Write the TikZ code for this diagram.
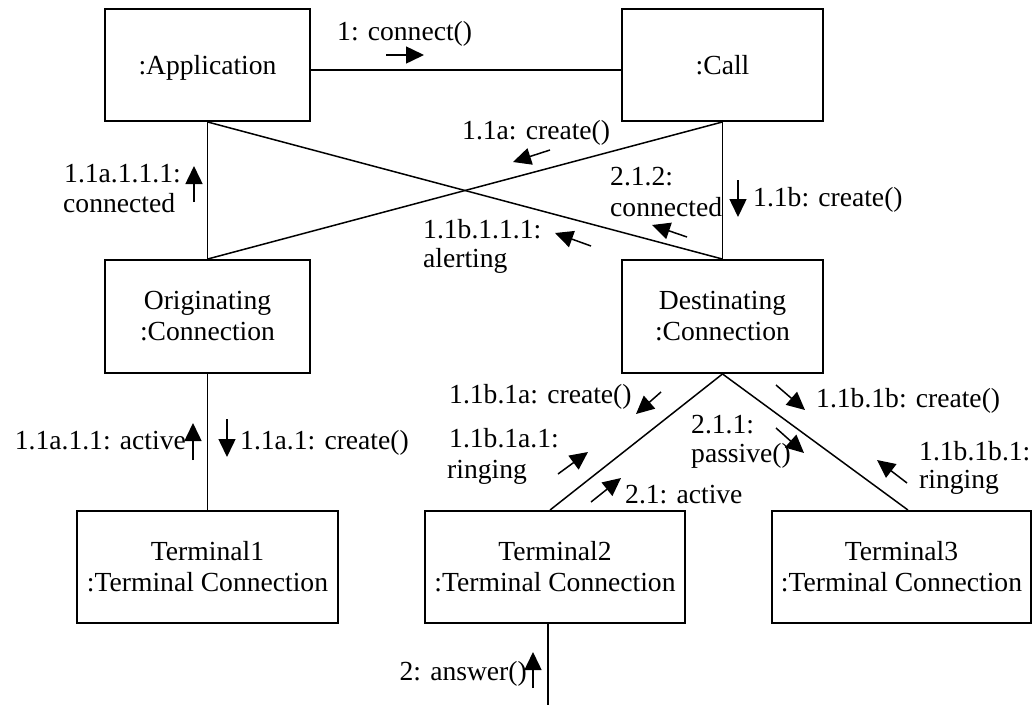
\documentclass[tikz,border=0pt]{standalone}
\usepackage{fontspec}
\setmainfont{Liberation Serif}
\usetikzlibrary{arrows.meta}
\begin{document}
\begin{tikzpicture}[x=1pt,y=-1pt,
  objbox/.style={draw, line width=1.9pt, inner sep=0pt, align=center,
    font=\fontsize{27.6}{31}\selectfont},
  conn/.style={line width=1.5pt},
  msg/.style={line width=1.5pt, -{Triangle[length=18pt,width=17pt]}},
  lbl/.style={inner sep=0pt, font=\fontsize{27.6}{31}\selectfont, anchor=base west},
  lble/.style={lbl, anchor=base east}]
\useasboundingbox (0,0) rectangle (1034,705);
% objects
\node[objbox, minimum width=205pt, minimum height=112pt, text depth=0pt] (app) at (207.5,65) {:Application};
\node[objbox, minimum width=201pt, minimum height=112pt, text depth=0pt] (call) at (722.5,65) {:Call};
\node[objbox, minimum width=205pt, minimum height=113pt] (orig) at (207.5,316.5) {Originating\\:Connection};
\node[objbox, minimum width=201pt, minimum height=113pt] (dest) at (722.5,316.5) {Destinating\\:Connection};
\node[objbox, minimum width=261pt, minimum height=112pt] (t1) at (207.5,567) {Terminal1\\:Terminal Connection};
\node[objbox, minimum width=260pt, minimum height=112pt] (t2) at (555,567) {Terminal2\\:Terminal Connection};
\node[objbox, minimum width=259pt, minimum height=112pt] (t3) at (901.5,567) {Terminal3\\:Terminal Connection};
\coordinate (ext) at (548,705);
% links
\draw[conn] ([yshift=-5pt]app.east) -- ([yshift=-5pt]call.west);
\draw[conn] (app.south) -- (orig.north);
\draw[conn] (app.south) -- (dest.north);
\draw[conn] (orig.north) -- (call.south);
\draw[conn] (call.south) -- (dest.north);
\draw[conn] (orig.south) -- (t1.north);
\draw[conn] (dest.south) -- ([xshift=-5pt]t2.north);
\draw[conn] (dest.south) -- ([xshift=6.5pt]t3.north);
\draw[conn] ([xshift=-7pt]t2.south) -- (ext);
% message arrows
\draw[msg] (386,55) -- (424,55);
\draw[msg] (194,202) -- (194,166);
\draw[msg] (550,150) -- (513,162);
\draw[msg] (687,237) -- (652,225);
\draw[msg] (591,246) -- (555,233);
\draw[msg] (738,180) -- (738,217);
\draw[msg] (193,460) -- (193,423);
\draw[msg] (227,419) -- (227,457);
\draw[msg] (661,392) -- (636,414);
\draw[msg] (558,474) -- (588,452);
\draw[msg] (591,502) -- (621,478);
\draw[msg] (776,385) -- (805,410);
\draw[msg] (776,428) -- (804,453);
\draw[msg] (907,483) -- (877,460);
\draw[msg] (533,688) -- (533,652);
% labels
\node[lbl] (m1) at (337,40) {1: connect()};
\node[lbl] (m2a) at (64,182) {1.1a.1.1.1:};
\node[lbl] (m2b) at (63,212) {connected};
\node[lbl] (m3) at (462,139) {1.1a: create()};
\node[lbl] (m4a) at (610,185) {2.1.2:};
\node[lbl] (m4b) at (610,216) {connected};
\node[lbl] (m5a) at (423,238) {1.1b.1.1.1:};
\node[lbl] (m5b) at (423,267) {alerting};
\node[lbl] (m6) at (753,206) {1.1b: create()};
\node[lble] (m7) at (186,449) {1.1a.1.1: active};
\node[lbl] (m8) at (240,449) {1.1a.1: create()};
\node[lbl] (m9) at (449,403) {1.1b.1a: create()};
\node[lbl] (m10a) at (449,447) {1.1b.1a.1:};
\node[lbl] (m10b) at (447,478) {ringing};
\node[lbl] (m11) at (625,503) {2.1: active};
\node[lbl] (m12a) at (691,433) {2.1.1:};
\node[lbl] (m12b) at (691,462) {passive()};
\node[lbl] (m13) at (816,407) {1.1b.1b: create()};
\node[lbl] (m14a) at (919,460) {1.1b.1b.1:};
\node[lbl] (m14b) at (919,488) {ringing};
\node[lble] (m15) at (527,680) {2: answer()};
\end{tikzpicture}
\end{document}
